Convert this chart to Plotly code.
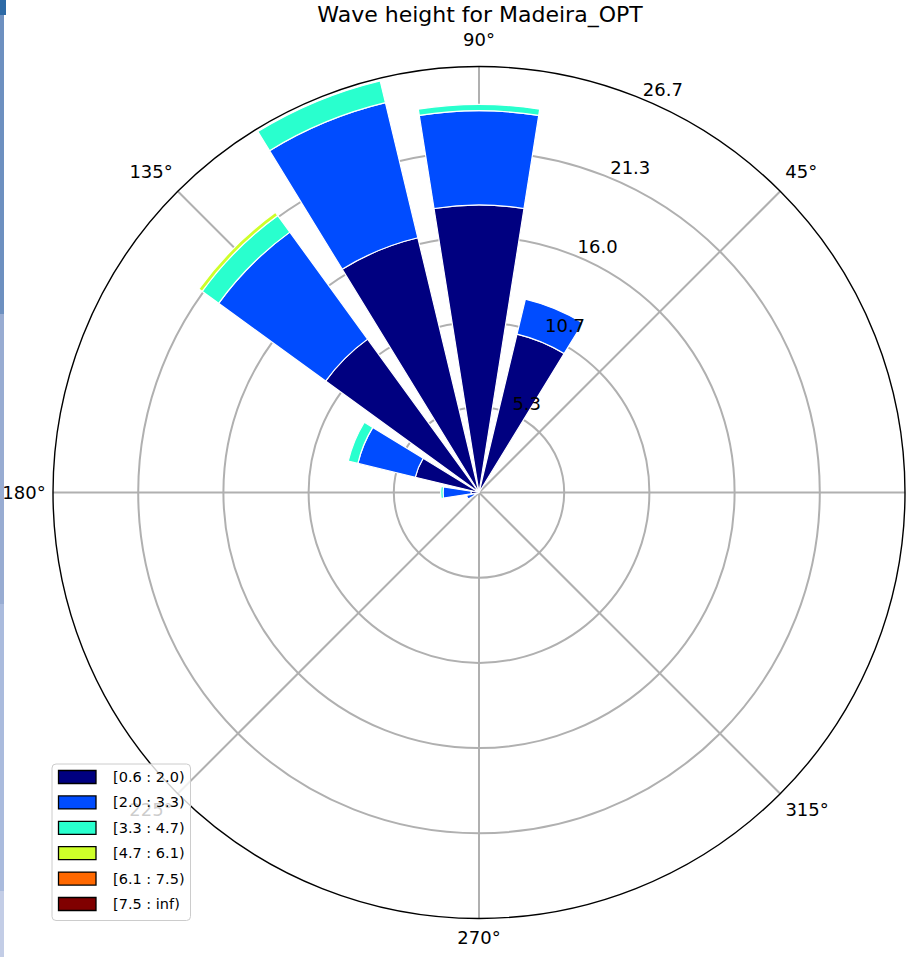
import plotly.graph_objects as go
import numpy as np

# ---- data: wave height rose, frequency (%) per direction sector and height class ----
directions = [67.5, 90.0, 112.5, 135.0, 157.5, 180.0, 202.5]
class_labels = ["[0.6 : 2.0)", "[2.0 : 3.3)", "[3.3 : 4.7)",
                "[4.7 : 6.1)", "[6.1 : 7.5)", "[7.5 : inf)"]
class_colors = ["#000080", "#004cff", "#29ffce", "#ceff29", "#ff6800", "#800000"]

freq_0p6_2p0 = [10.2, 18.0, 16.4, 11.87, 4.1, 0.5, 0.3]
freq_2p0_3p3 = [2.25, 5.9, 8.7, 8.28, 3.7, 1.75, 0.5]
freq_3p3_4p7 = [0.0, 0.4, 1.4, 1.28, 0.62, 0.15, 0.0]
freq_4p7_6p1 = [0.0, 0.0, 0.0, 0.25, 0.0, 0.0, 0.0]
freq_6p1_7p5 = [0.0, 0.0, 0.0, 0.0, 0.0, 0.0, 0.0]
freq_7p5_inf = [0.0, 0.0, 0.0, 0.0, 0.0, 0.0, 0.0]

class_freqs = [freq_0p6_2p0, freq_2p0_3p3, freq_3p3_4p7,
               freq_4p7_6p1, freq_6p1_7p5, freq_7p5_inf]

RMAX = 26.67
radial_ticks = list(np.linspace(0, RMAX, 6)[1:])
radial_text = [f"{v:.1f}" for v in radial_ticks]
angle_ticks = list(range(0, 360, 45))
upper_angles = [45, 90, 135]
RLABEL_ANGLE = 67.5

# ---- figure geometry (pixels) ----
W, H = 909, 957
CX, CY, R = 479, 492.5, 426
# the radius labels sit a little up and left of the gridline crossings
LBL_DX, LBL_DY = -8, -16
# direction labels on the upper half sit a little further out
UP_DY = -10


def px(x):
    return x / W


def py(y):
    return 1 - y / H


def domain(dx=0, dy=0):
    return dict(x=[px(CX - R + dx), px(CX + R + dx)],
                y=[py(CY + R + dy), py(CY - R + dy)])


fig = go.Figure()
for label, color, vals in zip(class_labels, class_colors, class_freqs):
    fig.add_trace(go.Barpolar(
        r=vals,
        theta=directions,
        width=[18] * len(directions),
        name=label,
        marker=dict(color=color, line=dict(color="white", width=1.2)),
    ))
# empty traces that carry the label overlay subplots
for sp in ["polar2", "polar3"]:
    fig.add_trace(go.Barpolar(r=[], theta=[], subplot=sp,
                              showlegend=False, hoverinfo="skip"))

angle_font = dict(size=18, color="black")
fig.update_layout(
    width=W, height=H,
    margin=dict(l=0, r=0, t=0, b=0),
    paper_bgcolor="white",
    font=dict(family="DejaVu Sans", color="black"),
    showlegend=False,
    title=dict(text="Wave height for Madeira_OPT", x=px(480), xanchor="center",
               y=py(14), yanchor="middle", font=dict(size=22, color="black")),
    polar=dict(
        domain=domain(),
        bgcolor="white",
        barmode="stack",
        angularaxis=dict(
            direction="counterclockwise", rotation=0,
            tickmode="array", tickvals=angle_ticks,
            ticktext=["" if (a == 0 or a in upper_angles) else f"{a}°" for a in angle_ticks],
            showgrid=True, gridcolor="#b0b0b0", gridwidth=1.5,
            showline=True, linecolor="black", linewidth=1.4,
            ticks="outside", ticklen=3, tickcolor="rgba(0,0,0,0)",
            tickfont=angle_font,
        ),
        radialaxis=dict(
            range=[0, RMAX], tickmode="array", tickvals=radial_ticks,
            ticktext=radial_text, showticklabels=False,
            angle=RLABEL_ANGLE,
            showline=False, showgrid=True, gridcolor="#b0b0b0", gridwidth=1.5,
            ticks="",
        ),
    ),
    polar2=dict(
        domain=domain(LBL_DX, LBL_DY),
        bgcolor="rgba(0,0,0,0)",
        angularaxis=dict(visible=False, direction="counterclockwise", rotation=0),
        radialaxis=dict(
            range=[0, RMAX], tickmode="array", tickvals=radial_ticks,
            ticktext=radial_text, angle=RLABEL_ANGLE, side="clockwise",
            tickangle=RLABEL_ANGLE, showline=False, showgrid=False, ticks="",
            tickfont=dict(size=18, color="black"),
        ),
    ),
    polar3=dict(
        domain=domain(0, UP_DY),
        bgcolor="rgba(0,0,0,0)",
        angularaxis=dict(
            direction="counterclockwise", rotation=0,
            tickmode="array", tickvals=angle_ticks,
            ticktext=[f"{a}°" if a in upper_angles else "" for a in angle_ticks],
            showgrid=False, showline=False,
            ticks="outside", ticklen=3, tickcolor="rgba(0,0,0,0)",
            tickfont=angle_font,
        ),
        radialaxis=dict(visible=False, range=[0, RMAX]),
    ),
)

# ---- legend box drawn with shapes ----
shapes = []
annotations = []
lx0, ly0, lx1, ly1, rr = 52, 764, 190.5, 920.5, 4
path = (f"M {px(lx0 + rr)},{py(ly0)} L {px(lx1 - rr)},{py(ly0)} "
        f"Q {px(lx1)},{py(ly0)} {px(lx1)},{py(ly0 + rr)} "
        f"L {px(lx1)},{py(ly1 - rr)} Q {px(lx1)},{py(ly1)} {px(lx1 - rr)},{py(ly1)} "
        f"L {px(lx0 + rr)},{py(ly1)} Q {px(lx0)},{py(ly1)} {px(lx0)},{py(ly1 - rr)} "
        f"L {px(lx0)},{py(ly0 + rr)} Q {px(lx0)},{py(ly0)} {px(lx0 + rr)},{py(ly0)} Z")
shapes.append(dict(type="path", path=path, xref="paper", yref="paper",
                   fillcolor="rgba(255,255,255,0.8)",
                   line=dict(color="#cccccc", width=1), layer="above"))
for i, (label, color) in enumerate(zip(class_labels, class_colors)):
    yc = 777 + 25.4 * i
    shapes.append(dict(type="rect", xref="paper", yref="paper",
                       x0=px(58.5), x1=px(96), y0=py(yc - 6.5), y1=py(yc + 6.5),
                       fillcolor=color, line=dict(color="black", width=1.3),
                       layer="above"))
    annotations.append(dict(text=label, x=px(111), y=py(yc), xref="paper", yref="paper",
                            xanchor="left", yanchor="middle", showarrow=False,
                            font=dict(size=14.5, color="black")))

# ---- coloured strip along the left edge ----
strip = [(0, 15, 6, "#2d6aa6"), (15, 314, 4, "#6d90c0"), (314, 604, 4, "#98acd2"),
         (604, 891, 4, "#aabbdd"), (891, 957, 4, "#c3cde6")]
for y0, y1, w, c in strip:
    shapes.append(dict(type="rect", xref="paper", yref="paper",
                       x0=0, x1=px(w), y0=py(y1), y1=py(y0),
                       fillcolor=c, line=dict(width=0), layer="above"))

fig.update_layout(shapes=shapes, annotations=annotations)
fig.write_html("out.html")
